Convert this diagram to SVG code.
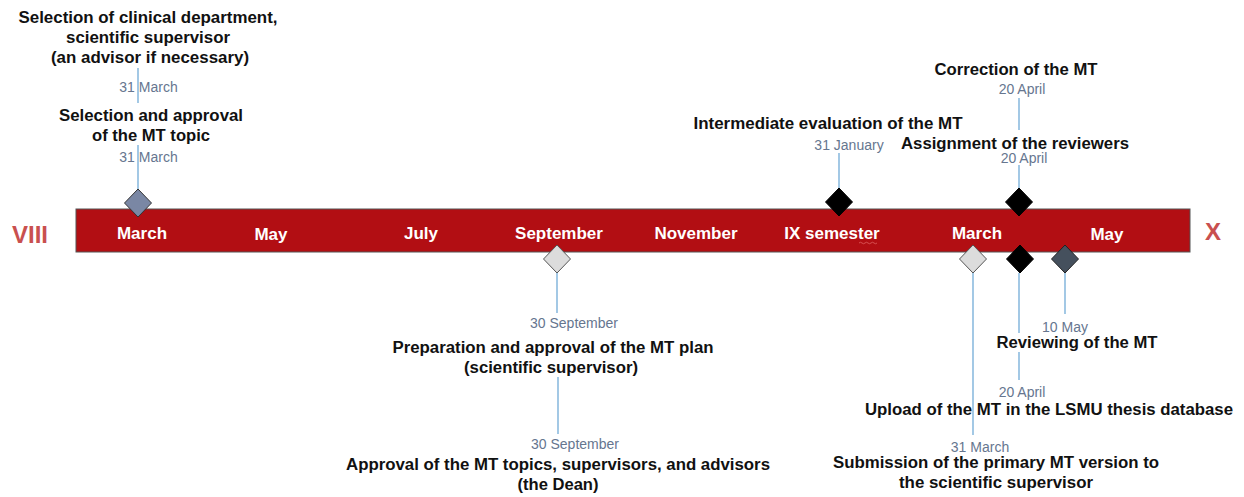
<svg xmlns="http://www.w3.org/2000/svg" xmlns:xlink="http://www.w3.org/1999/xlink" width="1244" height="497" viewBox="0 0 1244 497">
<style>
.t{font-family:"Liberation Sans",Arial,sans-serif;font-weight:bold;font-size:16px;fill:#111;text-anchor:middle}
.d{font-family:"Liberation Sans",Arial,sans-serif;font-size:14px;fill:#66768f;text-anchor:middle}
.m{font-family:"Liberation Sans",Arial,sans-serif;font-weight:bold;font-size:17px;fill:#fff;text-anchor:middle}
.r{font-family:"Liberation Sans",Arial,sans-serif;font-weight:bold;font-size:24px;fill:#c9504f;text-anchor:middle}
.c line{stroke:#8cbbdf;stroke-width:1.6}
.gm{fill:#7a87a4;stroke:#333;stroke-width:1}
.gl{fill:#dcdcdc;stroke:#555;stroke-width:1}
.gb{fill:#000;stroke:#000;stroke-width:1}
.gs{fill:#45505d;stroke:#222;stroke-width:1}
</style>
<defs>
<path id="dm" d="M0,-14 L13.5,0 L0,14 L-13.5,0Z"/>
</defs>
<rect width="1244" height="497" fill="#fff"/>
<g id="bar">
<rect x="76" y="209" width="1114" height="43" fill="#b20e13" stroke="#555" stroke-width="1"/>
<text class="m" x="142" y="239">March</text>
<text class="m" x="271" y="240">May</text>
<text class="m" x="421" y="239">July</text>
<text class="m" x="559" y="239">September</text>
<text class="m" x="696" y="239">November</text>
<text class="m" x="832" y="239">IX semester</text>
<path d="M859,243 q1.5,-1.5 3,0 t3,0 t3,0 t3,0 t3,0 t3,0" fill="none" stroke="#e06060" stroke-width="0.8"/>
<text class="m" x="977" y="239">March</text>
<text class="m" x="1107" y="240">May</text>
<text class="r" x="30" y="243">VIII</text>
<text class="r" x="1213" y="240">X</text>
</g>
<g id="connectors" class="c">
<line x1="138" y1="68" x2="138" y2="103"/>
<line x1="138" y1="145" x2="138" y2="189"/>
<line x1="839" y1="153" x2="839" y2="188"/>
<line x1="1019" y1="98" x2="1019" y2="130"/>
<line x1="1019" y1="165" x2="1019" y2="188"/>
<line x1="557" y1="273" x2="557" y2="313"/>
<line x1="558" y1="377" x2="558" y2="434"/>
<line x1="973" y1="273" x2="973" y2="435"/>
<line x1="1019" y1="273" x2="1019" y2="333"/>
<line x1="1019" y1="352" x2="1019" y2="380"/>
<line x1="1065" y1="273" x2="1065" y2="314"/>
</g>
<g id="n-selection-dept">
<text class="t" x="148" y="23" textLength="259" lengthAdjust="spacingAndGlyphs">Selection of clinical department,</text>
<text class="t" x="148" y="43" textLength="164" lengthAdjust="spacingAndGlyphs">scientific supervisor</text>
<text class="t" x="150" y="63" textLength="198" lengthAdjust="spacingAndGlyphs">(an advisor if necessary)</text>
<text class="d" x="148.5" y="92">31 March</text>
</g>
<g id="n-selection-topic">
<text class="t" x="151" y="121" textLength="184" lengthAdjust="spacingAndGlyphs">Selection and approval</text>
<text class="t" x="151" y="141" textLength="118" lengthAdjust="spacingAndGlyphs">of the MT topic</text>
<text class="d" x="148.5" y="162">31 March</text>
<use xlink:href="#dm" href="#dm" x="138" y="203" class="gm"/>
</g>
<g id="n-intermediate">
<text class="t" x="828" y="129" textLength="269" lengthAdjust="spacingAndGlyphs">Intermediate evaluation of the MT</text>
<text class="d" x="849" y="150">31 January</text>
<use xlink:href="#dm" href="#dm" x="839" y="202" class="gb"/>
</g>
<g id="n-correction">
<text class="t" x="1016" y="75" textLength="163" lengthAdjust="spacingAndGlyphs">Correction of the MT</text>
<text class="d" x="1022" y="94">20 April</text>
</g>
<g id="n-assignment">
<text class="t" x="1015" y="149" textLength="228" lengthAdjust="spacingAndGlyphs">Assignment of the reviewers</text>
<text class="d" x="1024" y="163">20 April</text>
<use xlink:href="#dm" href="#dm" x="1019" y="202" class="gb"/>
</g>
<g id="n-plan">
<use xlink:href="#dm" href="#dm" x="557" y="259" class="gl"/>
<text class="d" x="574" y="328">30 September</text>
<text class="t" x="553" y="353" textLength="321" lengthAdjust="spacingAndGlyphs">Preparation and approval of the MT plan</text>
<text class="t" x="551" y="373" textLength="174" lengthAdjust="spacingAndGlyphs">(scientific supervisor)</text>
</g>
<g id="n-dean">
<text class="d" x="575" y="449">30 September</text>
<text class="t" x="558" y="470" textLength="424" lengthAdjust="spacingAndGlyphs">Approval of the MT topics, supervisors, and advisors</text>
<text class="t" x="558" y="490" textLength="81" lengthAdjust="spacingAndGlyphs">(the Dean)</text>
</g>
<g id="n-submission">
<use xlink:href="#dm" href="#dm" x="973" y="259" class="gl"/>
<text class="d" x="980" y="452">31 March</text>
<text class="t" x="996" y="468" textLength="326" lengthAdjust="spacingAndGlyphs">Submission of the primary MT version to</text>
<text class="t" x="996" y="488" textLength="194" lengthAdjust="spacingAndGlyphs">the scientific supervisor</text>
</g>
<g id="n-upload">
<use xlink:href="#dm" href="#dm" x="1020" y="259" class="gb"/>
<text class="d" x="1022" y="397">20 April</text>
<text class="t" x="1049" y="415" textLength="368" lengthAdjust="spacingAndGlyphs">Upload of the MT in the LSMU thesis database</text>
</g>
<g id="n-reviewing">
<use xlink:href="#dm" href="#dm" x="1065" y="259" class="gs"/>
<text class="d" x="1065" y="332">10 May</text>
<text class="t" x="1077" y="348" textLength="161" lengthAdjust="spacingAndGlyphs">Reviewing of the MT</text>
</g>
</svg>
